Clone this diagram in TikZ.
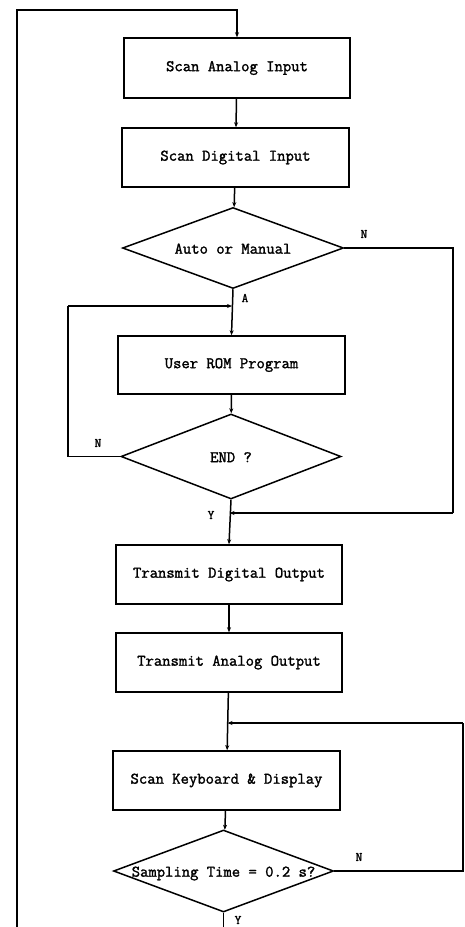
\documentclass[tikz,border=0pt]{standalone}
\usepackage{fontspec}
\setmonofont{Latin Modern Mono}[AutoFakeBold=1.6]
\usetikzlibrary{shapes.geometric,arrows.meta}
\newcommand\dtext[1]{\makebox[0pt]{\raisebox{-0.35em}[0pt][0pt]{#1}}}
\begin{document}
\begin{tikzpicture}[x=1pt,y=-1pt,
  line width=1.5pt,
  font=\ttfamily\bfseries\fontsize{16.2}{18}\selectfont,
  procbox/.style={draw, rectangle, inner sep=0pt},
  decbox/.style={draw, diamond, inner sep=0pt, line join=miter},
  arr/.style={-{Stealth[length=5pt,width=4pt]}},
  lbl/.style={font=\ttfamily\bfseries\fontsize{13}{14}\selectfont, inner sep=0pt}]
\useasboundingbox (0,0) rectangle (465,927);
\fill[white] (0,0) rectangle (465,927);

\node[procbox, minimum width=226pt, minimum height=60pt] (b1) at (237,68) {Scan Analog Input};
\node[procbox, minimum width=227pt, minimum height=59pt] (b2) at (235.5,157.5) {Scan Digital Input};
\node[decbox, minimum width=221pt, minimum height=81pt] (d1) at (233,248) {\dtext{Auto or Manual}};
\node[procbox, minimum width=227pt, minimum height=58pt] (rom) at (231.5,365) {User ROM Program};
\node[decbox, minimum width=220pt, minimum height=85pt] (d2) at (231,456.5) {\dtext{END ?}};
\node[procbox, minimum width=226pt, minimum height=59pt] (tdo) at (229,574.5) {Transmit Digital Output};
\node[procbox, minimum width=226pt, minimum height=59pt] (tao) at (229,662.5) {Transmit Analog Output};
\node[procbox, minimum width=227pt, minimum height=59pt] (skd) at (226.5,780.5) {Scan Keyboard \& Display};
\node[decbox, minimum width=220pt, minimum height=82pt] (d3) at (223.5,871) {\dtext{Sampling Time = 0.2 s?}};

\coordinate (lb) at (17,927);
\coordinate (lt) at (17,10);
\coordinate (m1) at (232,306);
\coordinate (m2) at (229.5,513);
\coordinate (m3) at (227.5,723);
\coordinate (r1) at (453,248);
\coordinate (r2) at (453,513);
\coordinate (l1) at (68,456.5);
\coordinate (l2) at (68,306);
\coordinate (r3) at (463,871);
\coordinate (r4) at (463,723);
\coordinate (yb) at (223.5,927);

\draw[arr] (lb) -- (lt) -| (b1.north);
\draw[arr] (b1) -- (b2);
\draw[arr] (b2) -- (d1);
\draw[arr] (d1.south) -- (rom.north);
\draw (d1.east) -- (r1) -- (r2);
\draw[arr] (r2) -- (m2);
\draw[arr] (rom) -- (d2);
\draw (d2.west) -- (l1) -- (l2);
\draw[arr] (l2) -- (m1);
\draw[arr] (d2.south) -- (tdo.north);
\draw[arr] (tdo) -- (tao);
\draw[arr] (tao) -- (skd);
\draw (d3.east) -- (r3) -- (r4);
\draw[arr] (r4) -- (m3);
\draw[arr] (skd) -- (d3);
\draw (d3.south) -- (yb);

\node[lbl] (nA) at (245,298) {A};
\node[lbl] (nN1) at (364,234) {N};
\node[lbl] (nN2) at (98,443) {N};
\node[lbl] (nY1) at (211,515) {Y};
\node[lbl] (nN3) at (359,857) {N};
\node[lbl] (nY2) at (238,920) {Y};
\end{tikzpicture}
\end{document}
